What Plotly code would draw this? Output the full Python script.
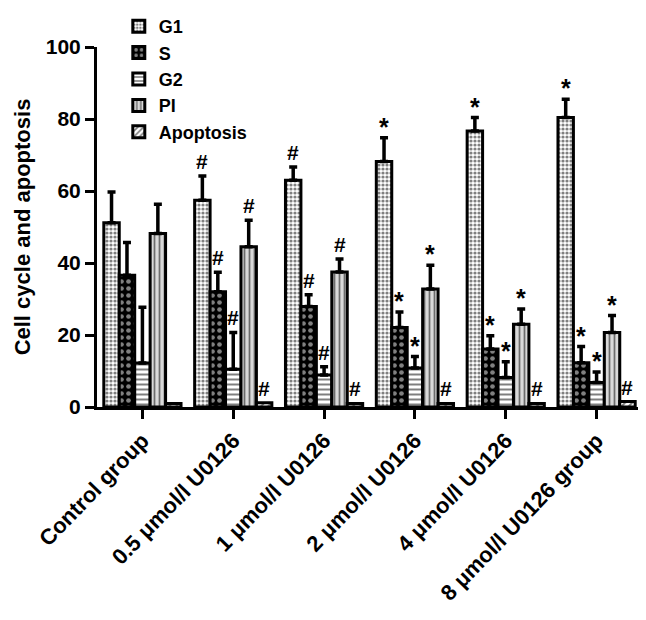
import plotly.graph_objects as go

categories = ["Control group", "0.5 μmol/l U0126", "1 μmol/l U0126",
              "2 μmol/l U0126", "4 μmol/l U0126", "8 μmol/l U0126 group"]
series_names = ["G1", "S", "G2", "PI", "Apoptosis"]

g1 = [51.2, 57.4, 63.0, 68.2, 76.7, 80.4]
s = [36.6, 32.0, 27.9, 22.1, 16.1, 12.3]
g2 = [12.2, 10.5, 8.9, 10.8, 8.2, 6.8]
pi = [48.2, 44.5, 37.5, 32.8, 23.0, 20.7]
apop = [1.0, 1.2, 1.0, 1.0, 1.0, 1.5]

g1_err = [8.5, 6.8, 3.7, 6.6, 3.7, 5.1]
s_err = [9.1, 5.4, 3.3, 4.3, 3.7, 4.5]
g2_err = [15.5, 10.2, 2.3, 3.2, 4.4, 2.9]
pi_err = [8.1, 7.4, 3.6, 6.6, 4.2, 4.7]
apop_err = [0.0, 0.0, 0.0, 0.0, 0.0, 0.0]

# significance marks per series per group
g1_sig = ["", "#", "#", "*", "*", "*"]
s_sig = ["", "#", "#", "*", "*", "*"]
g2_sig = ["", "#", "#", "*", "*", "*"]
pi_sig = ["", "#", "#", "*", "*", "*"]
apop_sig = ["", "#", "#", "#", "#", "#"]

values = [g1, s, g2, pi, apop]
errors = [g1_err, s_err, g2_err, pi_err, apop_err]
sigs = [g1_sig, s_sig, g2_sig, pi_sig, apop_sig]

patterns = [
    dict(shape=".", fgcolor="black", bgcolor="white", size=4, solidity=0.5),
    dict(shape=".", fgcolor="white", bgcolor="black", size=7, solidity=0.35),
    dict(shape="-", fgcolor="black", bgcolor="white", size=5, solidity=0.4),
    dict(shape="|", fgcolor="black", bgcolor="#d9d9d9", size=5, solidity=0.35),
    dict(shape="/", fgcolor="black", bgcolor="white", size=5, solidity=0.4),
]

FONT = "Arial, Liberation Sans, sans-serif"

fig = go.Figure()
for i, name in enumerate(series_names):
    fig.add_trace(go.Bar(
        name="<b>%s</b>" % name, x=categories, y=values[i],
        legendgroup=name,
        marker=dict(color="white", line=dict(color="black", width=3),
                    pattern=patterns[i]),
        error_y=dict(type="data", symmetric=False, array=errors[i],
                     arrayminus=[0] * len(categories),
                     color="black", thickness=3.5, width=4,
                     visible=any(e > 0 for e in errors[i])),
    ))

bargap = 0.15
nser = len(series_names)
bw = (1 - bargap) / nser
annotations = []
for i in range(nser):
    for j, cat in enumerate(categories):
        t = sigs[i][j]
        if not t:
            continue
        annotations.append(dict(
            x=j + (i - (nser - 1) / 2) * bw, y=values[i][j] + errors[i][j],
            xref="x", yref="y", text="<b>%s</b>" % t, showarrow=False,
            yanchor="bottom", yshift=(1 if t == "#" else -5),
            font=dict(family=FONT, size=21 if t == "#" else 25, color="black"),
        ))

# page has an 8px body margin: figure is sized/margined to compensate
fig.update_layout(
    width=638, height=612,
    paper_bgcolor="white", plot_bgcolor="white",
    margin=dict(l=89, r=4, t=39, b=213, autoexpand=False),
    barmode="group", bargap=bargap, bargroupgap=0,
    font=dict(family=FONT, size=16, color="black"),
    legend=dict(x=0.04, y=1.0, xanchor="left", yanchor="top",
                yref="container", bgcolor="rgba(0,0,0,0)",
                font=dict(family=FONT, size=18, color="black"),
                tracegroupgap=0, traceorder="normal",
                borderwidth=0),
    annotations=annotations,
    xaxis=dict(showline=True, linecolor="black", linewidth=3,
               ticks="outside", ticklen=9, tickwidth=2.5, tickcolor="black",
               tickangle=-46, showgrid=False,
               tickfont=dict(family=FONT, size=22, color="black"),
               range=[-0.5, 5.5]),
    yaxis=dict(range=[0, 100], tickvals=[0, 20, 40, 60, 80, 100],
               ticktext=["<b>0</b>", "<b>20</b>", "<b>40</b>", "<b>60</b>",
                         "<b>80</b>", "<b>100</b>"],
               showline=True, linecolor="black", linewidth=3,
               ticks="outside", ticklen=9, tickwidth=2.5, tickcolor="black",
               showgrid=False, zeroline=False,
               tickfont=dict(family=FONT, size=21, color="black"),
               title=dict(text="<b>Cell cycle and apoptosis</b>",
                          font=dict(family=FONT, size=22, color="black"),
                          standoff=10)),
)
fig.update_xaxes(ticktext=["<b>%s</b>" % c for c in categories],
                 tickvals=categories)

fig.write_html("out.html")
